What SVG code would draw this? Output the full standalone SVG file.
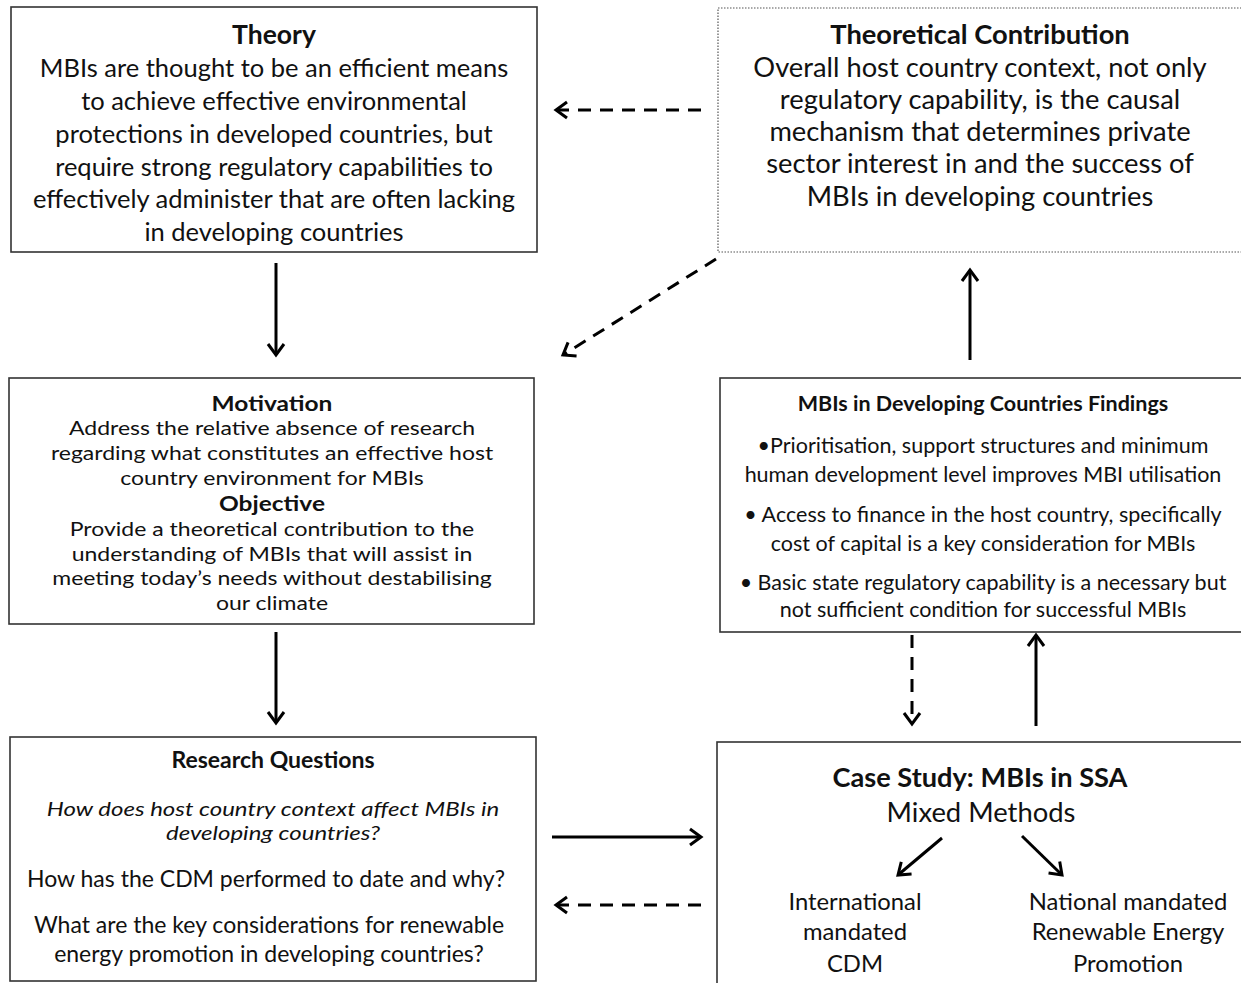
<svg xmlns="http://www.w3.org/2000/svg" width="1241" height="983" viewBox="0 0 1241 983">
<style>
.box{fill:#fff;stroke:#333;stroke-width:1.6}
.dot{fill:#fff;stroke:#555;stroke-width:1.2;stroke-dasharray:1.5 1.5}
text{font-family:Lato,"Open Sans","Liberation Sans",sans-serif;fill:#111;text-anchor:middle}
.b{font-weight:bold}
.c{stroke:#000;stroke-width:3;fill:none}
.d{stroke-dasharray:13 9}
</style>
<defs>
<marker id="ah" viewBox="0 0 20 20" refX="17" refY="10" markerWidth="20" markerHeight="20" markerUnits="userSpaceOnUse" orient="auto">
<polyline points="6,2 17,10 6,18" fill="none" stroke="#000" stroke-width="3"/>
</marker>
</defs>
<rect width="1241" height="983" fill="#fff"/>
<g id="theory">
<rect class="box" x="11" y="7" width="526" height="245"/>
<text class="b" x="274" y="44" font-size="26.5">Theory</text>
<g font-size="25.5">
<text x="274" y="77">MBIs are thought to be an efficient means</text>
<text x="274" y="110">to achieve effective environmental</text>
<text x="274" y="143">protections in developed countries, but</text>
<text x="274" y="176">require strong regulatory capabilities to</text>
<text x="274" y="208">effectively administer that are often lacking</text>
<text x="274" y="241">in developing countries</text>
</g>
</g>
<g id="contribution">
<rect class="dot" x="718" y="8" width="530" height="244"/>
<text class="b" x="980" y="44" font-size="27.3">Theoretical Contribution</text>
<g font-size="27.3">
<text x="980" y="77">Overall host country context, not only</text>
<text x="980" y="109">regulatory capability, is the causal</text>
<text x="980" y="141">mechanism that determines private</text>
<text x="980" y="173">sector interest in and the success of</text>
<text x="980" y="206">MBIs in developing countries</text>
</g>
</g>
<g id="motivation">
<rect class="box" x="9" y="378" width="525" height="246"/>
<g transform="translate(272 0) scale(1.15 1)">
<text class="b" x="0" y="411" font-size="21.3">Motivation</text>
<g font-size="20">
<text x="0" y="435">Address the relative absence of research</text>
<text x="0" y="460">regarding what constitutes an effective host</text>
<text x="0" y="485">country environment for MBIs</text>
<text class="b" x="0" y="511" font-size="21.3">Objective</text>
<text x="0" y="536">Provide a theoretical contribution to the</text>
<text x="0" y="561">understanding of MBIs that will assist in</text>
<text x="0" y="585">meeting today’s needs without destabilising</text>
<text x="0" y="610">our climate</text>
</g>
</g>
</g>
<g id="findings">
<rect class="box" x="720" y="378" width="528" height="254"/>
<text class="b" x="983" y="411" font-size="21.5">MBIs in Developing Countries Findings</text>
<g font-size="21.5">
<text x="983" y="453">•Prioritisation, support structures and minimum</text>
<text x="983" y="482">human development level improves MBI utilisation</text>
<text x="983" y="522">• Access to finance in the host country, specifically</text>
<text x="983" y="551">cost of capital is a key consideration for MBIs</text>
<text x="983" y="590">• Basic state regulatory capability is a necessary but</text>
<text x="983" y="617">not sufficient condition for successful MBIs</text>
</g>
</g>
<g id="questions">
<rect class="box" x="10" y="737" width="526" height="244"/>
<text class="b" x="273" y="768" font-size="23">Research Questions</text>
<g transform="translate(273 0) scale(1.2 1)" font-size="20" font-style="italic">
<text x="0" y="816">How does host country context affect MBIs in</text>
<text x="0" y="840">developing countries?</text>
</g>
<g font-size="23">
<text x="266" y="887">How has the CDM performed to date and why?</text>
<text x="269" y="933">What are the key considerations for renewable</text>
<text x="269" y="962">energy promotion in developing countries?</text>
</g>
</g>
<g id="casestudy">
<rect class="box" x="717" y="742" width="530" height="250"/>
<text class="b" x="980" y="787" font-size="27.2">Case Study: MBIs in SSA</text>
<text x="981" y="822" font-size="27.4">Mixed Methods</text>
<g font-size="23.8">
<text x="855" y="910">International</text>
<text x="855" y="940">mandated</text>
<text x="855" y="972">CDM</text>
<text x="1128" y="910">National mandated</text>
<text x="1128" y="940">Renewable Energy</text>
<text x="1128" y="972">Promotion</text>
</g>
<line class="c" x1="942" y1="838" x2="898" y2="875" marker-end="url(#ah)"/>
<line class="c" x1="1022" y1="836" x2="1062" y2="875" marker-end="url(#ah)"/>
</g>
<g id="connectors">
<line class="c d" x1="701" y1="110" x2="556" y2="110" marker-end="url(#ah)"/>
<line class="c d" x1="716" y1="259" x2="563" y2="355" marker-end="url(#ah)"/>
<line class="c" x1="276" y1="263" x2="276" y2="355" marker-end="url(#ah)"/>
<line class="c" x1="970" y1="360" x2="970" y2="270" marker-end="url(#ah)"/>
<line class="c" x1="276" y1="632" x2="276" y2="723" marker-end="url(#ah)"/>
<line class="c d" x1="912" y1="635" x2="912" y2="724" marker-end="url(#ah)"/>
<line class="c" x1="1036" y1="726" x2="1036" y2="635" marker-end="url(#ah)"/>
<line class="c" x1="552" y1="837" x2="701" y2="837" marker-end="url(#ah)"/>
<line class="c d" x1="701" y1="905" x2="556" y2="905" marker-end="url(#ah)"/>
</g>
</svg>
